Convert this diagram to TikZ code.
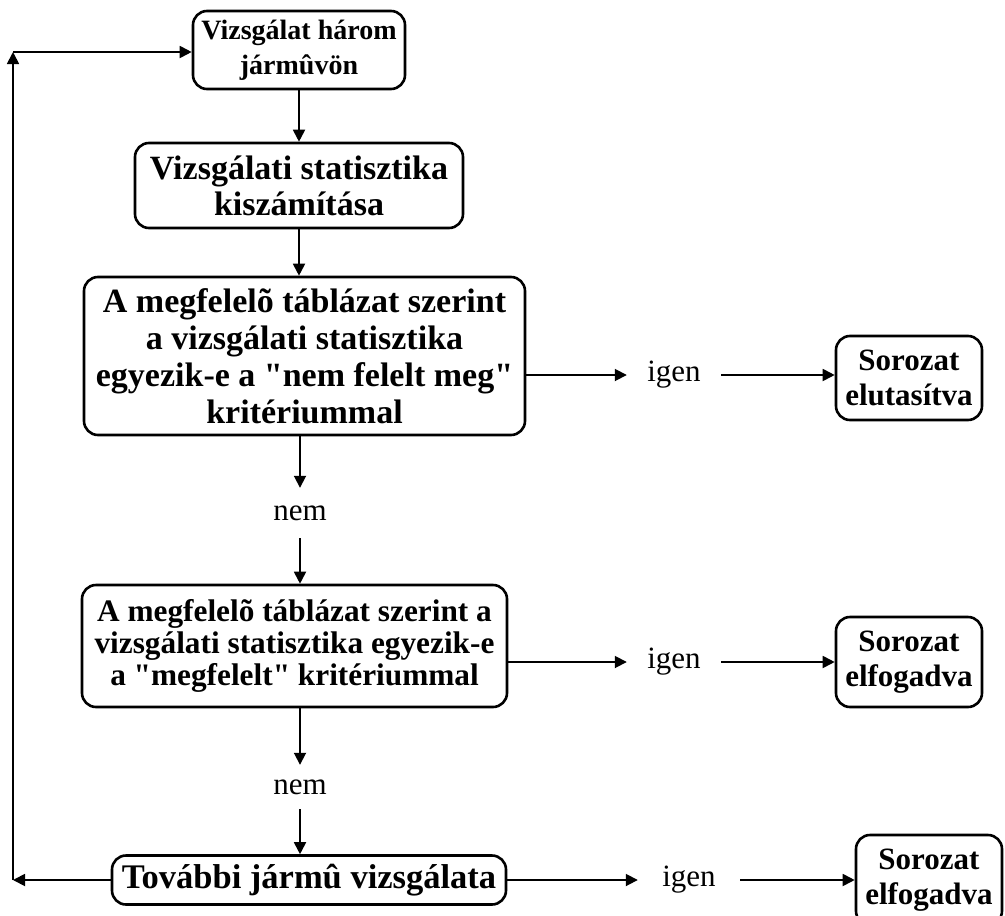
\documentclass[tikz,border=0pt]{standalone}
\usepackage{fontspec}
\setmainfont{Liberation Serif}[Ligatures=TeXOff]
\usetikzlibrary{arrows.meta}

\begin{document}
\begin{tikzpicture}[x=1pt, y=-1pt, >={Triangle[length=12pt,width=12pt]}]
			\tikzstyle{box} = [draw, line width=2.6pt, rounded corners=14pt, align=center, inner sep=0pt]
			\tikzstyle{answer} = [inner sep=0pt, font=\fontsize{31}{34}\selectfont]
			\tikzstyle{flow} = [->, line width=1.8pt]
			\useasboundingbox (0,0) rectangle (1005,916);
			\path
			node[box, minimum width=212pt, minimum height=78pt, font=\bfseries\fontsize{28}{35}\selectfont] (start) at (299,50) {Vizsgálat három\\jármûvön}
			node[box, minimum width=328pt, minimum height=85pt, font=\bfseries\fontsize{34}{36}\selectfont] (stat) at (299,185.5) {Vizsgálati statisztika\\kiszámítása}
			node[box, minimum width=441pt, minimum height=158pt, font=\bfseries\fontsize{34}{37}\selectfont] (fail) at (304.5,356) {A megfelelõ táblázat szerint\\a vizsgálati statisztika\\egyezik-e a "nem felelt meg"\\kritériummal}
			node[box, minimum width=425pt, minimum height=122pt, font=\bfseries\fontsize{31.3}{32}\selectfont] (pass) at (294.5,646) {A megfelelõ táblázat szerint a\\vizsgálati statisztika egyezik-e\\a "megfelelt" kritériummal}
			node[box, minimum width=394pt, minimum height=49pt, font=\bfseries\fontsize{34.5}{36}\selectfont] (next) at (309,880) {További jármû vizsgálata}
			node[box, minimum width=146pt, minimum height=84pt, font=\bfseries\fontsize{31}{35}\selectfont] (reject) at (909,378) {Sorozat\\elutasítva}
			node[box, minimum width=146pt, minimum height=90pt, font=\bfseries\fontsize{31}{35}\selectfont] (accept) at (909,662) {Sorozat\\elfogadva}
			node[box, minimum width=146pt, minimum height=90pt, font=\bfseries\fontsize{31}{35}\selectfont] (acceptb) at (929,880) {Sorozat\\elfogadva}
			node[answer, minimum width=94pt] (igena) at (674,375) {igen}
			node[answer, minimum width=94pt] (igenb) at (674,662) {igen}
			node[answer, minimum width=102pt] (igenc) at (689,880) {igen}
			node[answer, minimum height=50pt] (nema) at (300,513) {nem}
			node[answer, minimum height=44pt] (nemb) at (300,787) {nem}
			coordinate (back) at (13,880)
			coordinate (top) at (13,52)
			;
			\path[flow]
			(start) edge (stat)
			(stat.south) edge (stat.south |- fail.north)
			(fail.south -| nema) edge (nema)
			(nema) edge (nema |- pass.north)
			(pass.south -| nemb) edge (nemb)
			(nemb) edge (nemb |- next.north)
			(igena -| fail.east) edge (igena)
			(igena) edge (igena -| reject.west)
			(igenb -| pass.east) edge (igenb)
			(igenb) edge (igenb -| accept.west)
			(igenc -| next.east) edge (igenc)
			(igenc) edge (igenc -| acceptb.west)
			(next.west) edge (back)
			(back) edge (top)
			(top) edge (top -| start.west)
			;
\end{tikzpicture}
\end{document}
